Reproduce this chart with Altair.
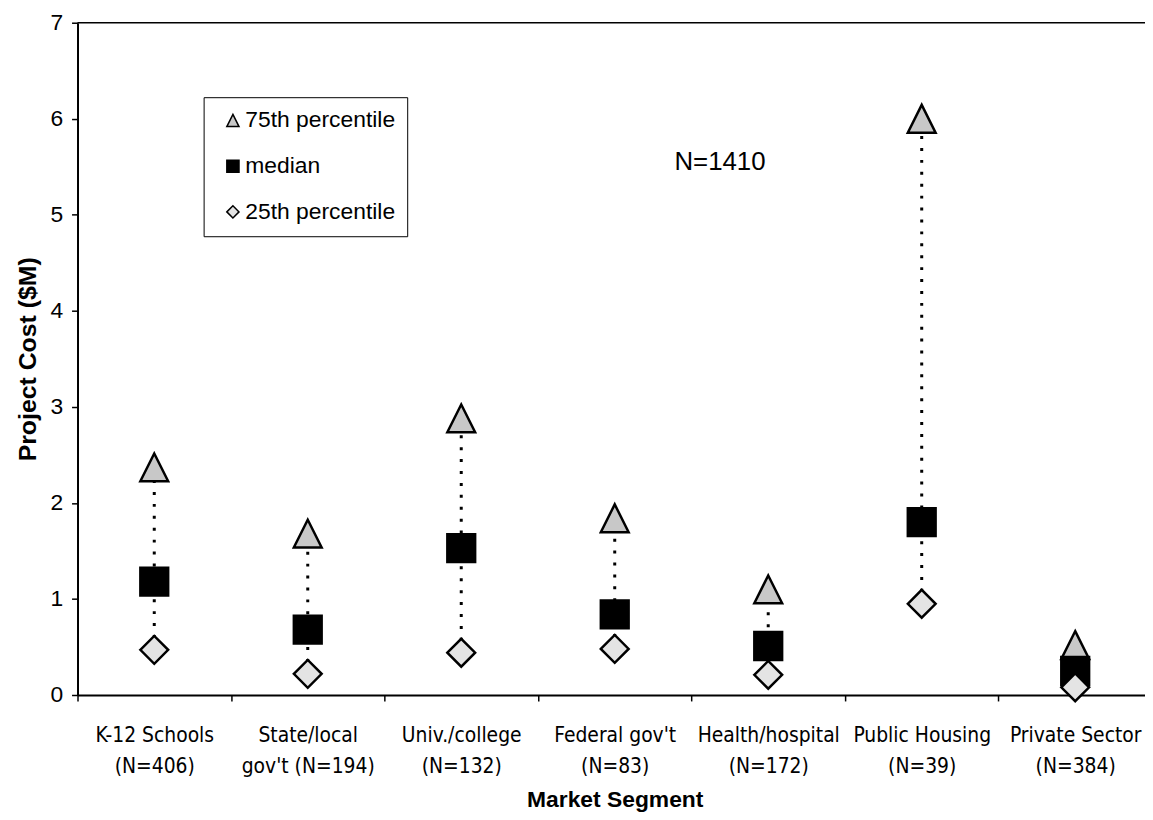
import altair as alt
import pandas as pd

# ---- data ----
segments = [
    "K-12 Schools\n(N=406)",
    "State/local\ngov't (N=194)",
    "Univ./college\n(N=132)",
    "Federal gov't\n(N=83)",
    "Health/hospital\n(N=172)",
    "Public Housing\n(N=39)",
    "Private Sector\n(N=384)",
]
p75 = [2.37, 1.68, 2.88, 1.84, 1.10, 6.00, 0.52]
median = [1.18, 0.68, 1.53, 0.84, 0.51, 1.80, 0.25]
p25 = [0.47, 0.22, 0.44, 0.48, 0.21, 0.95, 0.08]
stat_names = ["75th percentile", "median", "25th percentile"]
y_ticks = [0, 1, 2, 3, 4, 5, 6, 7]
annotation = "N=1410"

wide = pd.DataFrame({"segment": segments, "p25": p25, "p75": p75})
rows = []
for s, a, m, b in zip(segments, p75, median, p25):
    rows.append({"segment": s, "stat": stat_names[0], "value": a})
    rows.append({"segment": s, "stat": stat_names[1], "value": m})
    rows.append({"segment": s, "stat": stat_names[2], "value": b})
long = pd.DataFrame(rows)

FONT = "Liberation Sans, Arial, sans-serif"
NARROW = "Liberation Sans Narrow, Arial Narrow, DejaVu Sans Condensed, sans-serif"

xscale = alt.Scale(type="band", domain=segments, range=[0, 1082], paddingInner=0, paddingOuter=0)
yscale = alt.Scale(domain=[0, 7], nice=False, zero=True)

x_axis = alt.Axis(
    title="Market Segment",
    titleFont=FONT,
    titleFontSize=23,
    titleFontWeight="bold",
    titleColor="black",
    titlePadding=12,
    labelFont=NARROW,
    labelFontSize=21,
    labelColor="black",
    labelAngle=0,
    labelExpr="split(datum.label, '\\n')",
    labelLineHeight=31,
    labelPadding=24,
    labelBaseline="top",
    tickBand="extent",
    tickColor="black",
    tickSize=6,
    tickWidth=1.5,
    domainColor="black",
    domainWidth=2,
    grid=False,
)

y_axis = alt.Axis(
    title="Project Cost ($M)",
    titleFont=FONT,
    titleFontSize=25,
    titleFontWeight="bold",
    titleColor="black",
    titlePadding=10,
    values=y_ticks,
    format="d",
    labelFont=FONT,
    labelFontSize=23,
    labelColor="black",
    labelPadding=9,
    tickColor="black",
    tickSize=6,
    tickWidth=1.5,
    domainColor="black",
    domainWidth=2,
    grid=False,
)

def xe(field):
    return alt.X(field, type="nominal", scale=xscale, sort=segments, axis=x_axis)

def ye(field):
    return alt.Y(field, type="quantitative", scale=yscale, axis=y_axis)

# top frame line of the plot area
frame = alt.Chart(pd.DataFrame({"top": [7]})).mark_rule(color="black", strokeWidth=1.5).encode(
    y=ye("top"),
    x=alt.value(0),
    x2=alt.value(1090),
)

dots = alt.Chart(wide).mark_rule(
    color="black", strokeWidth=3, strokeDash=[3, 9]
).encode(
    x=xe("segment"),
    y=ye("p25"),
    y2="p75:Q",
)

tri_path = "M0,-1L1,1L-1,1Z"
points = alt.Chart(long).mark_point(
    filled=True, size=784, strokeWidth=2.5, opacity=1
).encode(
    x=xe("segment"),
    y=ye("value"),
    shape=alt.Shape(
        "stat:N",
        scale=alt.Scale(domain=stat_names, range=[tri_path, "square", "diamond"]),
        legend=alt.Legend(title=None),
    ),
    fill=alt.Fill(
        "stat:N",
        scale=alt.Scale(domain=stat_names, range=["#c8c8c8", "#000000", "#e4e4e4"]),
        legend=alt.Legend(title=None),
    ),
    stroke=alt.Stroke(
        "stat:N",
        scale=alt.Scale(domain=stat_names, range=["#000000", "#000000", "#000000"]),
        legend=alt.Legend(title=None),
    ),
)

note = alt.Chart(pd.DataFrame({"seg": [segments[3]], "yv": [5.55], "t": [annotation]})).mark_text(
    font=FONT, fontSize=26, color="black", align="center", baseline="middle", dx=106
).encode(
    x=xe("seg"),
    y=ye("yv"),
    text="t:N",
)

chart = (
    alt.layer(frame, dots, points, note)
    .properties(
        width=1075,
        height=677,
        autosize=alt.AutoSizeParams(type="none"),
        padding={"left": 70, "top": 12, "right": 0, "bottom": 115},
        background="white",
    )
    .configure_view(stroke=None)
    .configure_legend(
        orient="none",
        legendX=127,
        legendY=75,
        strokeColor="black",
        fillColor="white",
        padding=12,
        symbolOffset=6,
        labelFont=FONT,
        labelFontSize=23,
        labelColor="black",
        symbolSize=150,
        symbolStrokeWidth=1.5,
        rowPadding=22,
        labelOffset=1,
    )
)

chart.save("out.html", embed_options={"renderer": "svg", "actions": False})
